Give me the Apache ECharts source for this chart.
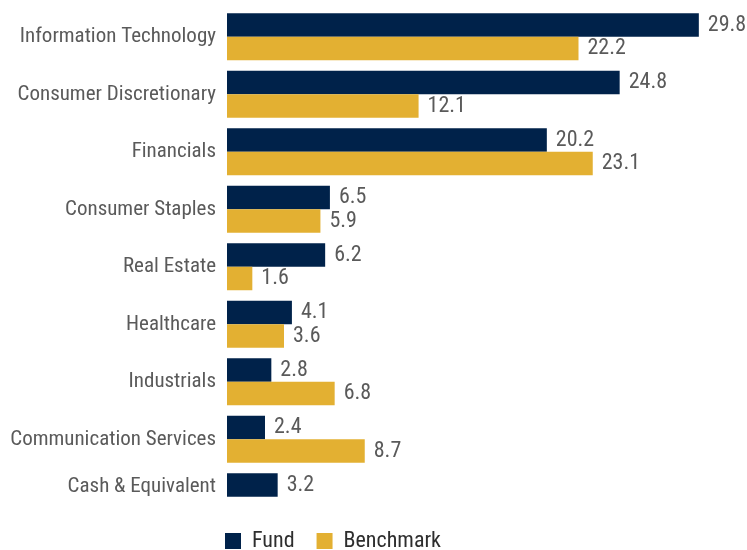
<!DOCTYPE html>
<html><head><meta charset="utf-8">
<script src="https://cdn.jsdelivr.net/npm/echarts@6/dist/echarts.min.js"></script>
<style>html,body{margin:0;padding:0;background:#fff}#c{width:747px;height:550px}</style>
</head><body><div id="c"></div>
<script>
const categories = ["Information Technology","Consumer Discretionary","Financials","Consumer Staples","Real Estate","Healthcare","Industrials","Communication Services","Cash & Equivalent"];
const fund = [29.8,24.8,20.2,6.5,6.2,4.1,2.8,2.4,3.2];
const benchmark = [22.2,12.1,23.1,5.9,1.6,3.6,6.8,8.7,null];
const FONT = '"Roboto Condensed","Open Sans Condensed",sans-serif';
const chart = echarts.init(document.getElementById('c'), null, {renderer:'canvas'});
const lbl = {show:true, position:'right', distance:9, color:'#5a5a5a', fontFamily:FONT, fontSize:22, formatter:p=>p.value==null?'':p.value.toFixed(1)};
chart.setOption({
  animation:false,
  grid:{left:227, top:8, width:475, height:517.5, containLabel:false, outerBoundsMode:'none'},
  xAxis:{type:'value', min:0, max:30, show:false},
  yAxis:{type:'category', data:categories, inverse:true,
    axisLine:{show:false}, axisTick:{show:false},
    axisLabel:{margin:11, color:'#5a5a5a', fontFamily:FONT, fontSize:21,
      formatter:v=> v==='Cash & Equivalent' ? '{c|'+v+'}' : v,
      rich:{c:{fontFamily:FONT, fontSize:21, color:'#5a5a5a', padding:[0,0,20,0]}}}},
  legend:{top:530, left:225, padding:0, itemWidth:16, itemHeight:16, itemGap:22, icon:'rect',
    textStyle:{color:'#2e2e2e', fontFamily:FONT, fontSize:22, padding:[0,0,0,6]}, data:['Fund','Benchmark']},
  series:[
    {name:'Fund', type:'bar', data:fund, barWidth:23.5, barGap:'0%', itemStyle:{color:'#00224a'}, label:lbl},
    {name:'Benchmark', type:'bar', data:benchmark, barWidth:23.5, itemStyle:{color:'#e3b032'}, label:lbl}
  ]
});
</script></body></html>
